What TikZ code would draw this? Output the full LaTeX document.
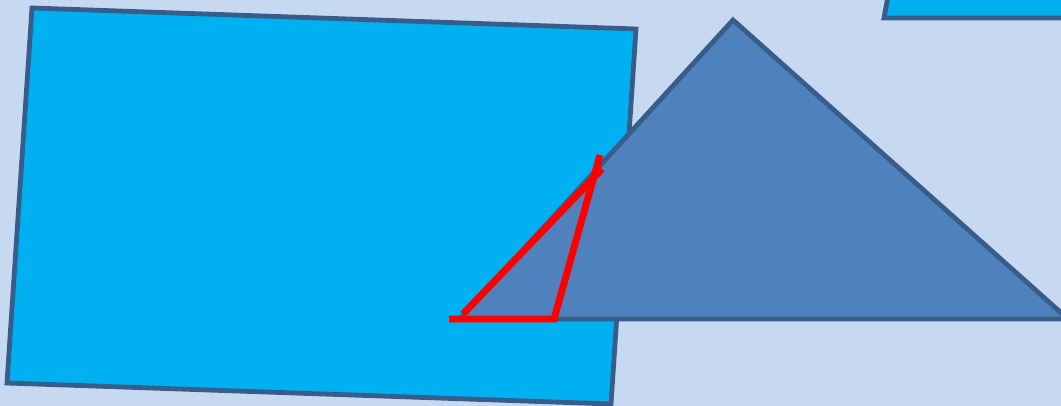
\documentclass[tikz,border=0pt]{standalone}
\usetikzlibrary{calc}

\begin{document}
\begin{tikzpicture}[x=0.75pt, y=-0.75pt, line join=miter]
  % Colours of the slide
  \definecolor{slideBg}{RGB}{198, 217, 241}
  \definecolor{cyanFill}{RGB}{0, 176, 240}
  \definecolor{triFill}{RGB}{79, 129, 189}
  \definecolor{edgeBlue}{RGB}{56, 93, 138}
  \definecolor{markRed}{RGB}{255, 0, 0}

  \tikzset{
    shapeline/.style={draw=edgeBlue, line width=3.6pt},
    redmark/.style={draw=markRed, line width=5.2pt}
  }

  % ==========================================
  % 1. FRAME
  % ==========================================
  \useasboundingbox (0,0) rectangle (1061,406);
  \clip (0,0) rectangle (1061,406);
  \fill[slideBg] (0,0) rectangle (1061,406);

  % ==========================================
  % 2. TILTED RECTANGLE
  % ==========================================
  \coordinate (RectTL) at (32,8);
  \coordinate (RectTR) at (636,29);
  \coordinate (RectBR) at (611,404);
  \coordinate (RectBL) at (7,383);
  \filldraw[shapeline, fill=cyanFill] (RectTL) -- (RectTR) -- (RectBR) -- (RectBL) -- cycle;

  % Second rectangle, cut by the top right corner
  \coordinate (TopBL) at (884,18);
  \filldraw[shapeline, fill=cyanFill] (TopBL) -- (1080,18) -- (1080,-20) -- (891,-20) -- cycle;

  % ==========================================
  % 3. TRIANGLE
  % ==========================================
  \coordinate (Apex) at (733,20);
  \coordinate (BaseL) at (460,319);
  \coordinate (BaseR) at (1068,319);
  \filldraw[shapeline, fill=triFill] (Apex) -- (BaseR) -- (BaseL) -- cycle;

  % ==========================================
  % 4. RED MARKS
  % ==========================================
  \coordinate (RedA) at (449,319);
  \coordinate (RedB) at (554,319);
  \coordinate (RedC) at (600,155);
  \coordinate (RedD) at (463,314);
  \coordinate (RedE) at (602,169);
  \draw[redmark] (RedA) -- (RedB) -- (RedC);
  \draw[redmark] (RedD) -- (RedE);
\end{tikzpicture}
\end{document}
